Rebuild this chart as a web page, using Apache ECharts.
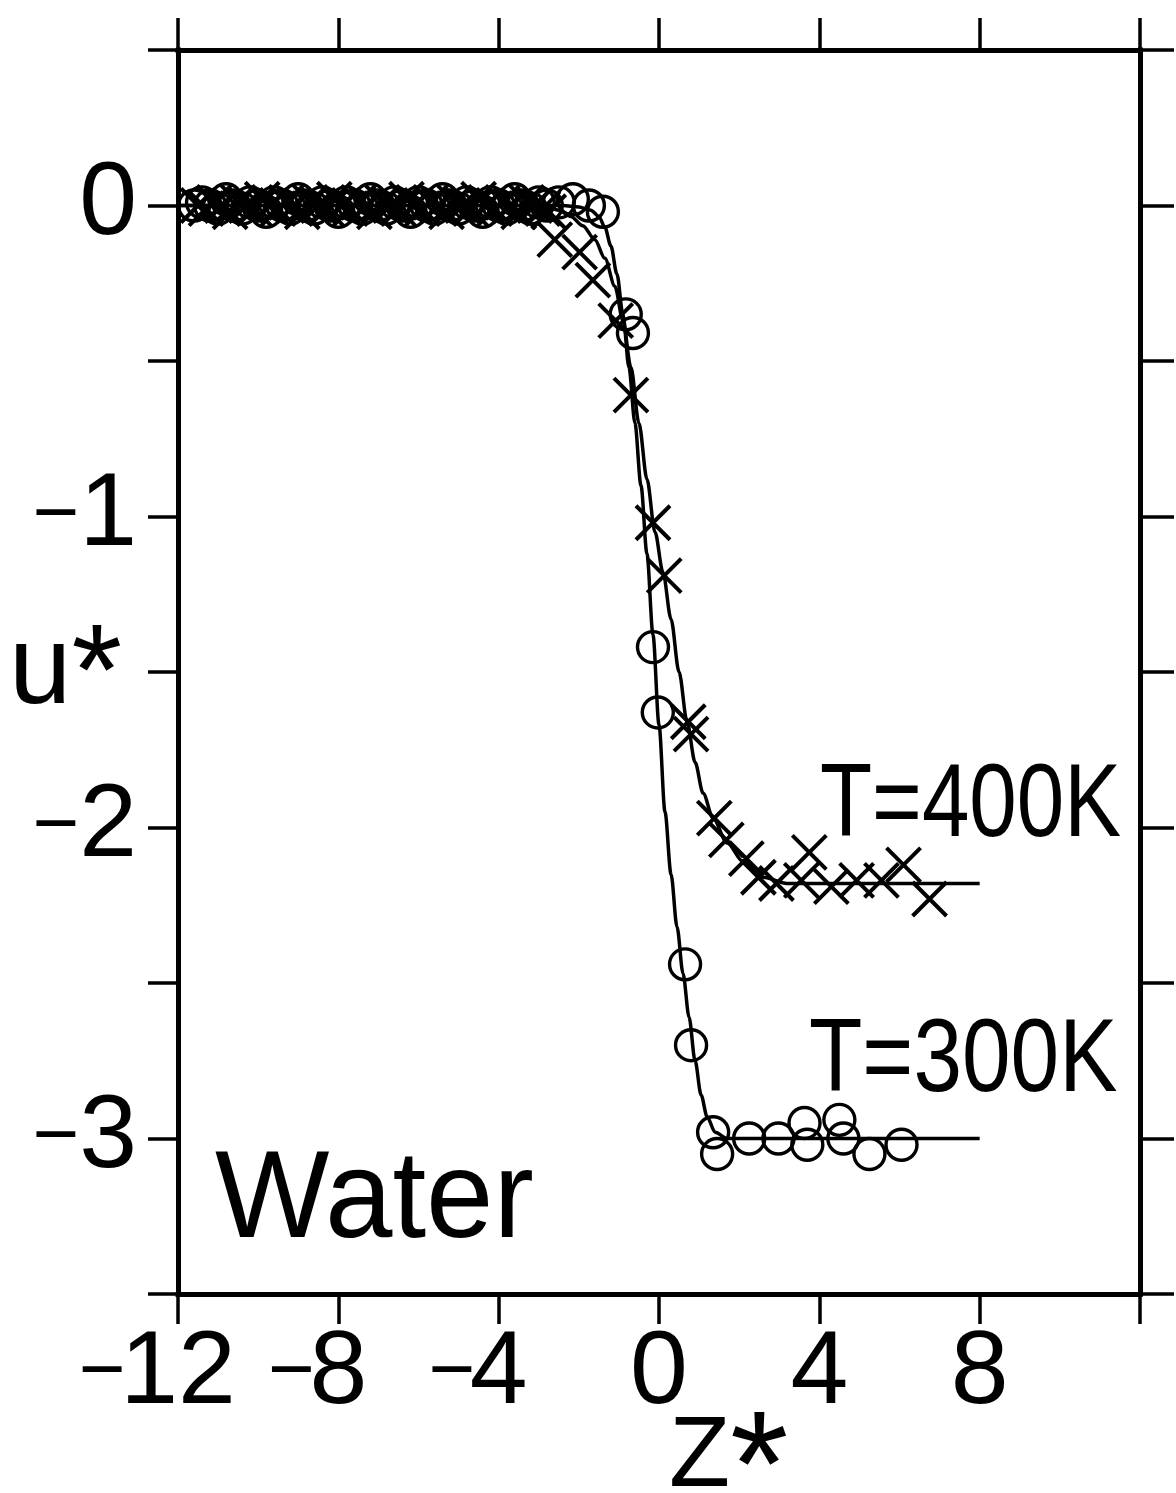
<!DOCTYPE html>
<html>
<head>
<meta charset="utf-8">
<script src="https://cdn.jsdelivr.net/npm/echarts@6/dist/echarts.min.js"></script>
<style>
  html, body { margin: 0; padding: 0; background: #fff; }
  #chart { width: 1176px; height: 1493px; }
</style>
</head>
<body>
<div id="chart"></div>
<script>
// Tick labels on the two axes
const zTickLabels = ['−12', '−8', '−4', '0', '4', '8'];
const uTickLabels = ['0', '−1', '−2', '−3'];

// Smooth fitted profiles u*(z*)
const fit300K = [
  [-12, 0], [-3, 0], [-2.4, 0], [-2.0, -0.005], [-1.7, -0.015], [-1.5, -0.035],
  [-1.35, -0.07], [-1.2, -0.13], [-1.05, -0.22], [-0.9, -0.35], [-0.75, -0.52],
  [-0.6, -0.7], [-0.45, -0.9], [-0.3, -1.12], [-0.15, -1.38], [0, -1.67],
  [0.15, -1.95], [0.3, -2.15], [0.45, -2.32], [0.6, -2.47], [0.75, -2.61],
  [0.9, -2.75], [1.05, -2.86], [1.2, -2.93], [1.4, -2.98], [1.7, -3.0],
  [2.2, -3.0], [8, -3.0]
];
const fit400K = [
  [-12, 0], [-3.2, 0], [-2.8, -0.005], [-2.5, -0.015], [-2.2, -0.035], [-1.9, -0.065],
  [-1.6, -0.11], [-1.35, -0.17], [-1.1, -0.26], [-0.9, -0.37], [-0.7, -0.52],
  [-0.5, -0.7], [-0.3, -0.88], [-0.1, -1.05], [0.1, -1.18], [0.3, -1.33],
  [0.5, -1.5], [0.7, -1.66], [0.9, -1.79], [1.1, -1.89], [1.35, -1.97],
  [1.7, -2.05], [2.1, -2.11], [2.6, -2.16], [3.2, -2.18], [4, -2.18], [8, -2.18]
];

// Simulation points, T = 300 K (circles)
const sim300K = [
  [-11.6, 0], [-11.4, 0.01], [-11.2, 0], [-11.0, -0.01], [-10.8, 0.02], [-10.6, 0],
  [-10.4, -0.01], [-10.2, 0.01], [-10.0, 0], [-9.8, -0.02], [-9.6, 0.01], [-9.4, 0],
  [-9.2, -0.01], [-9.0, 0.02], [-8.8, 0], [-8.6, -0.01], [-8.4, 0.01], [-8.2, 0],
  [-8.0, -0.02], [-7.8, 0.01], [-7.6, 0], [-7.4, -0.01], [-7.2, 0.02], [-7.0, 0],
  [-6.8, -0.01], [-6.6, 0.01], [-6.4, 0], [-6.2, -0.02], [-6.0, 0.01], [-5.8, 0],
  [-5.6, -0.01], [-5.4, 0.02], [-5.2, 0], [-5.0, -0.01], [-4.8, 0.01], [-4.6, 0],
  [-4.4, -0.02], [-4.2, 0.01], [-4.0, 0], [-3.8, -0.01], [-3.6, 0.02], [-3.4, 0],
  [-3.2, -0.01], [-3.0, 0.01], [-2.8, 0],
  [-2.5, 0.01], [-2.15, 0.02], [-1.75, 0.0], [-1.4, -0.02],
  [-0.83, -0.35], [-0.65, -0.41], [-0.15, -1.42], [-0.03, -1.63],
  [0.65, -2.44], [0.8, -2.70],
  [1.35, -2.98], [1.45, -3.05], [2.25, -3.0], [2.98, -3.0], [3.63, -2.95],
  [3.7, -3.02], [4.5, -2.94], [4.6, -3.0], [5.25, -3.05], [6.05, -3.02]
];

// Simulation points, T = 400 K (crosses)
const sim400K = [
  [-11.5, 0], [-11.3, -0.01], [-11.1, 0.01], [-10.9, 0], [-10.7, -0.02], [-10.5, 0.01],
  [-10.3, 0], [-10.1, -0.01], [-9.9, 0.02], [-9.7, 0], [-9.5, -0.01], [-9.3, 0.01],
  [-9.1, 0], [-8.9, -0.02], [-8.7, 0.01], [-8.5, 0], [-8.3, -0.01], [-8.1, 0.02],
  [-7.9, 0], [-7.7, -0.01], [-7.5, 0.01], [-7.3, 0], [-7.1, -0.02], [-6.9, 0.01],
  [-6.7, 0], [-6.5, -0.01], [-6.3, 0.02], [-6.1, 0], [-5.9, -0.01], [-5.7, 0.01],
  [-5.5, 0], [-5.3, -0.02], [-5.1, 0.01], [-4.9, 0], [-4.7, -0.01], [-4.5, 0.02],
  [-4.3, 0], [-4.1, -0.01], [-3.9, 0.01], [-3.7, 0], [-3.5, -0.02], [-3.3, 0.01],
  [-3.1, 0], [-2.9, -0.01], [-2.75, -0.02],
  [-2.6, -0.11], [-1.98, -0.15], [-1.65, -0.24], [-1.08, -0.37], [-0.7, -0.61],
  [-0.15, -1.02], [0.13, -1.19], [0.73, -1.66], [0.8, -1.70],
  [1.38, -1.97], [1.68, -2.04], [2.18, -2.10], [2.48, -2.16], [2.93, -2.18],
  [3.75, -2.08], [3.55, -2.17], [4.3, -2.19], [4.93, -2.17], [5.55, -2.17],
  [6.1, -2.12], [6.75, -2.23]
];

const FONT = 'Liberation Sans';
const INK = '#000';

// Minus sign as its own token; a spacer of equal width on the right keeps the digits centred on the tick
const minusRich = {
  m: { fontFamily: FONT, fontSize: 80, width: 36, align: 'right', color: INK },
  s: { fontFamily: FONT, fontSize: 80, width: 36, color: INK }
};

function splitSign(label) {
  return label.charAt(0) === '−' ? { neg: true, digits: label.slice(1) } : { neg: false, digits: label };
}

function zLabel(value) {
  const idx = [-12, -8, -4, 0, 4, 8].indexOf(value);
  if (idx < 0) return '';
  const p = splitSign(zTickLabels[idx]);
  return p.neg ? '{m|−}' + p.digits + '{s| }' : p.digits;
}

function uLabel(value) {
  const idx = [0, -1, -2, -3].indexOf(value);
  if (idx < 0) return '';
  const p = splitSign(uTickLabels[idx]);
  return p.neg ? '{m|−}' + p.digits : p.digits;
}

const frameLine = { show: true, onZero: false, lineStyle: { color: INK, width: 5, cap: 'square' } };
const tickStyle = { color: INK, width: 3.5 };

const chart = echarts.init(document.getElementById('chart'), null, { renderer: 'canvas' });

chart.setOption({
  animation: false,
  backgroundColor: '#fff',
  grid: { left: 178, right: 36, top: 50, bottom: 199, containLabel: false, outerBoundsMode: 'none' },
  xAxis: [
    {
      type: 'value', position: 'bottom', min: -12, max: 12, interval: 4,
      axisLine: frameLine,
      axisTick: { show: true, inside: false, length: 30, lineStyle: tickStyle },
      splitLine: { show: false },
      axisLabel: {
        show: true, margin: 28, showMinLabel: true, showMaxLabel: true,
        hideOverlap: false, interval: 0,
        fontFamily: FONT, fontSize: 104, color: INK,
        formatter: zLabel, rich: minusRich
      },
      name: 'Z{st|*}', nameLocation: 'middle', nameGap: 72, nameMoveOverlap: false,
      nameTextStyle: {
        fontFamily: FONT, fontSize: 100, color: INK, align: 'left', padding: [0, 0, 0, 10],
        rich: { st: { fontFamily: FONT, fontSize: 150, color: INK, padding: [34, 0, 0, 0] } }
      }
    },
    {
      type: 'value', position: 'top', min: -12, max: 12, interval: 4,
      axisLine: frameLine,
      axisTick: { show: true, inside: false, length: 32, lineStyle: tickStyle },
      splitLine: { show: false },
      axisLabel: { show: false }
    }
  ],
  yAxis: [
    {
      type: 'value', position: 'left', min: -3.5, max: 0.5, interval: 0.5,
      axisLine: frameLine,
      axisTick: { show: true, inside: false, length: 30, lineStyle: tickStyle },
      splitLine: { show: false },
      axisLabel: {
        show: true, margin: 41, showMinLabel: true, showMaxLabel: true,
        hideOverlap: false, interval: 0,
        fontFamily: FONT, fontSize: 104, color: INK,
        formatter: uLabel, rich: { m: minusRich.m }
      },
      name: 'u{st|*}', nameLocation: 'middle', nameRotate: 0, nameGap: 56, nameMoveOverlap: false,
      nameTextStyle: {
        fontFamily: FONT, fontSize: 112, color: INK,
        rich: { st: { fontFamily: FONT, fontSize: 130, color: INK, padding: [14, 0, 0, 0] } }
      }
    },
    {
      type: 'value', position: 'right', min: -3.5, max: 0.5, interval: 0.5,
      axisLine: frameLine,
      axisTick: { show: true, inside: false, length: 34, lineStyle: tickStyle },
      splitLine: { show: false },
      axisLabel: { show: false }
    }
  ],
  graphic: [
    {
      type: 'text', x: 215, y: 1140, scaleX: 0.97, silent: true,
      style: { text: 'Water', font: '125px "Liberation Sans"', fill: INK, textAlign: 'left', textVerticalAlign: 'top' }
    },
    {
      type: 'text', x: 820, y: 755, scaleX: 0.82, silent: true,
      style: { text: 'T=400K', font: '104px "Liberation Sans"', fill: INK, textAlign: 'left', textVerticalAlign: 'top' }
    },
    {
      type: 'text', x: 809, y: 1010, scaleX: 0.84, silent: true,
      style: { text: 'T=300K', font: '104px "Liberation Sans"', fill: INK, textAlign: 'left', textVerticalAlign: 'top' }
    }
  ],
  series: [
    {
      name: 'T=300K fit', type: 'line', data: fit300K, xAxisIndex: 0, yAxisIndex: 0,
      showSymbol: false, smooth: 0.3, smoothMonotone: 'x', silent: true, z: 2,
      lineStyle: { color: INK, width: 3.5 }
    },
    {
      name: 'T=400K fit', type: 'line', data: fit400K, xAxisIndex: 0, yAxisIndex: 0,
      showSymbol: false, smooth: 0.3, smoothMonotone: 'x', silent: true, z: 2,
      lineStyle: { color: INK, width: 3.5 }
    },
    {
      name: 'T=300K', type: 'scatter', data: sim300K, xAxisIndex: 0, yAxisIndex: 0,
      symbol: 'circle', symbolSize: 31, silent: true, z: 3,
      itemStyle: { color: 'transparent', borderColor: INK, borderWidth: 3.4, opacity: 1 }
    },
    {
      name: 'T=400K', type: 'scatter', data: sim400K, xAxisIndex: 0, yAxisIndex: 0,
      symbol: 'path://M0,0L20,20M20,0L0,20', symbolSize: 34, silent: true, z: 3,
      itemStyle: { color: 'transparent', borderColor: INK, borderWidth: 4, opacity: 1 }
    }
  ]
});
</script>
</body>
</html>
